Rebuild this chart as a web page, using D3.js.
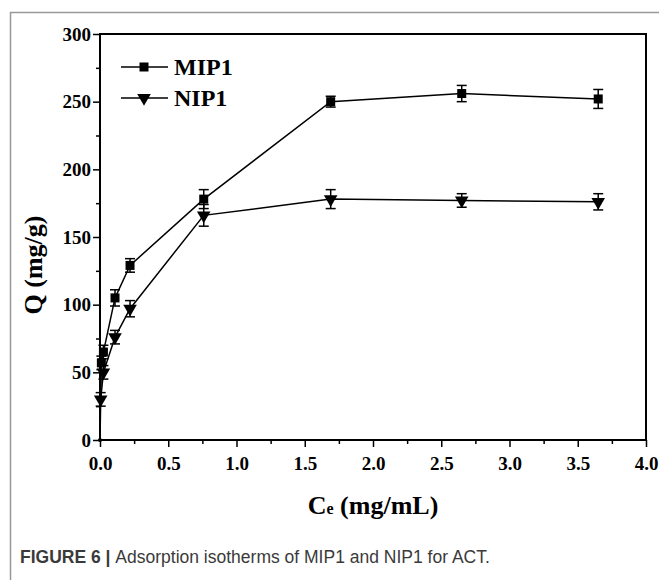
<!DOCTYPE html>
<html>
<head>
<meta charset="utf-8">
<script src="https://cdn.jsdelivr.net/npm/d3@7"></script>
<style>
    body { margin: 0; background: #fff; }
    .gfx__tick text { font-family: "Liberation Serif", "Times New Roman", serif; font-weight: bold; font-size: 19px; fill: #000; }
    .gfx__title { font-family: "Liberation Serif", "Times New Roman", serif; font-weight: bold; fill: #000; }
    .gfx__caption { font-family: "Liberation Sans", Arial, sans-serif; font-size: 17.5px; fill: #3a3a3a; }
</style>
</head>
<body>
<svg id="isotherm-graphic" width="659" height="580"></svg>
<script>
// values
const mipCe = [0, 0.01, 0.025, 0.11, 0.22, 0.76, 1.69, 2.65, 3.65];
const mipQ = [0, 57, 65, 105, 129, 178, 250, 256, 252];
const mipErr = [0, 5, 5, 6, 5, 7, 4, 6, 7];
const nipCe = [0.005, 0.025, 0.11, 0.22, 0.76, 1.69, 2.65, 3.65];
const nipQ = [30, 50, 76, 97, 166, 178, 177, 176];
const nipErr = [5, 5, 5, 6, 8, 7, 5, 6];
const xTicks = [0, 0.5, 1.0, 1.5, 2.0, 2.5, 3.0, 3.5, 4.0];
const yTicks = [0, 50, 100, 150, 200, 250, 300];

const box = {left: 100, right: 646, top: 34, bottom: 440};

const svg = d3.select("#isotherm-graphic");

// outer figure frame
svg.append("path")
    .attr("d", "M10.5,580 V12.5 H659")
    .attr("fill", "none")
    .attr("stroke", "#999")
    .attr("stroke-width", 1.5);

const scaleX = d3.scaleLinear().domain([0, 4]).range([box.left, box.right]);
const scaleY = d3.scaleLinear().domain([0, 300]).range([box.bottom, box.top]);

// minor ticks first
svg.append("g")
    .attr("transform", `translate(0,${box.bottom})`)
    .call(d3.axisBottom(scaleX).tickValues(d3.range(0.25, 4, 0.5)).tickSize(4).tickFormat(""))
    .call(g => g.select(".domain").remove())
    .call(g => g.selectAll("line").attr("stroke-width", 1.5));
svg.append("g")
    .attr("transform", `translate(${box.left},0)`)
    .call(d3.axisLeft(scaleY).tickValues(d3.range(25, 300, 50)).tickSize(4).tickFormat(""))
    .call(g => g.select(".domain").remove())
    .call(g => g.selectAll("line").attr("stroke-width", 1.5));

const axisX = svg.append("g")
    .attr("class", "gfx__tick")
    .attr("transform", `translate(0,${box.bottom})`)
    .call(d3.axisBottom(scaleX).tickValues(xTicks).tickSize(7).tickPadding(10).tickFormat(d3.format(".1f")))
    .call(g => g.select(".domain").remove())
    .call(g => g.selectAll("line").attr("stroke-width", 1.5));
const axisY = svg.append("g")
    .attr("class", "gfx__tick")
    .attr("transform", `translate(${box.left},0)`)
    .call(d3.axisLeft(scaleY).tickValues(yTicks).tickSize(7).tickPadding(2).tickFormat(d3.format("d")))
    .call(g => g.select(".domain").remove())
    .call(g => g.selectAll("line").attr("stroke-width", 1.5));

svg.append("rect")
    .attr("x", box.left)
    .attr("y", box.top)
    .attr("width", box.right - box.left)
    .attr("height", box.bottom - box.top)
    .attr("fill", "none")
    .attr("stroke", "#000")
    .attr("stroke-width", 2);

const makeSeries = (ce, q, err) => ce.map((c, i) => ({ce: c, q: q[i], err: err[i]}));
const series = [
    {name: "MIP1", symbol: "square", points: makeSeries(mipCe, mipQ, mipErr)},
    {name: "NIP1", symbol: "triangle", points: makeSeries(nipCe, nipQ, nipErr)}
];

const line = d3.line().x(d => scaleX(d.ce)).y(d => scaleY(d.q));

const drawMarker = function(g, type) {
    if (type === "square") {
        g.append("rect")
            .attr("x", -4.5).attr("y", -4.5)
            .attr("width", 9).attr("height", 9)
            .attr("fill", "#000");
    } else {
        g.append("path")
            .attr("d", d3.symbol(d3.symbolTriangle, 80)())
            .attr("transform", "rotate(180)")
            .attr("fill", "#000");
    }
};

series.forEach(s => {
    const grp = svg.append("g");
    grp.append("path")
        .datum(s.points)
        .attr("d", line)
        .attr("fill", "none")
        .attr("stroke", "#000")
        .attr("stroke-width", 1.5);
    const bars = grp.selectAll(".gfx__err")
        .data(s.points.filter(d => d.err > 0)).enter()
        .append("g")
            .attr("class", "gfx__err")
            .attr("stroke", "#000")
            .attr("stroke-width", 1.5);
    bars.append("line")
        .attr("x1", d => scaleX(d.ce)).attr("x2", d => scaleX(d.ce))
        .attr("y1", d => scaleY(d.q - d.err)).attr("y2", d => scaleY(d.q + d.err));
    bars.append("line")
        .attr("x1", d => scaleX(d.ce) - 5).attr("x2", d => scaleX(d.ce) + 5)
        .attr("y1", d => scaleY(d.q + d.err)).attr("y2", d => scaleY(d.q + d.err));
    bars.append("line")
        .attr("x1", d => scaleX(d.ce) - 5).attr("x2", d => scaleX(d.ce) + 5)
        .attr("y1", d => scaleY(d.q - d.err)).attr("y2", d => scaleY(d.q - d.err));
    grp.selectAll(".gfx__marker")
        .data(s.points).enter()
        .append("g")
            .attr("class", "gfx__marker")
            .attr("transform", d => `translate(${scaleX(d.ce)},${scaleY(d.q)})`)
            .each(function(d) {
                if (d.q === 0) {
                    d3.select(this).append("circle").attr("r", 2).attr("fill", "#000");
                } else {
                    drawMarker(d3.select(this), s.symbol);
                }
            });
});

// legend
const legend = svg.append("g").attr("transform", "translate(121,67)");
series.forEach((s, i) => {
    const row = legend.append("g").attr("transform", `translate(0,${i * 31})`);
    row.append("line")
        .attr("x1", 0).attr("x2", 47)
        .attr("stroke", "#000").attr("stroke-width", 1.5);
    const m = row.append("g").attr("transform", "translate(23,0)");
    drawMarker(m, s.symbol);
    row.append("text")
        .attr("class", "gfx__title")
        .attr("x", 53).attr("y", 8)
        .attr("font-size", 24)
        .text(s.name);
});

// axis titles
svg.append("text")
    .attr("class", "gfx__title")
    .attr("transform", "translate(42,265) rotate(-90)")
    .attr("text-anchor", "middle")
    .attr("font-size", 26)
    .text("Q (mg/g)");

const xTitle = svg.append("text")
    .attr("class", "gfx__title")
    .attr("x", (box.left + box.right) / 2)
    .attr("y", 514)
    .attr("text-anchor", "middle")
    .attr("font-size", 26);
xTitle.append("tspan").text("C");
xTitle.append("tspan").attr("font-size", 16).text("e");
xTitle.append("tspan").text(" (mg/mL)");

const caption = svg.append("text")
    .attr("class", "gfx__caption")
    .attr("x", 20)
    .attr("y", 563);
caption.append("tspan").attr("font-weight", "bold").text("FIGURE 6 | ");
caption.append("tspan").text("Adsorption isotherms of MIP1 and NIP1 for ACT.");
</script>
</body>
</html>
